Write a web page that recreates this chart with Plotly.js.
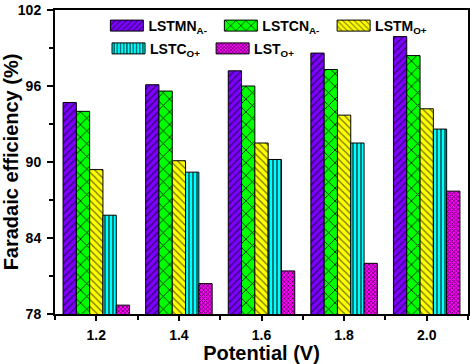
<!DOCTYPE html>
<html>
<head>
<meta charset="utf-8">
<script src="https://cdn.plot.ly/plotly-3.0.1.min.js"></script>
<style>
html,body{margin:0;padding:0;background:#fff;}
#chart{width:474px;height:364px;}
#chart g.legendpoints path{d:path("M16.5,5.5H-16.5V-5.5H16.5Z");}
</style>
</head>
<body>
<div id="chart"></div>
<script>
// Data
var potentials = [1.2, 1.4, 1.6, 1.8, 2.0];
var tickLabels = ['1.2', '1.4', '1.6', '1.8', '2.0'];
var seriesNames = ['LSTMN<sub>A-</sub>', 'LSTCN<sub>A-</sub>', 'LSTM<sub>O+</sub>', 'LSTC<sub>O+</sub>', 'LST<sub>O+</sub>'];
var LSTMN_A = [94.7, 96.1, 97.2, 98.6, 99.9];
var LSTCN_A = [94.0, 95.6, 96.0, 97.3, 98.4];
var LSTM_O = [89.4, 90.1, 91.5, 93.7, 94.2];
var LSTC_O = [85.8, 89.2, 90.2, 91.5, 92.6];
var LST_O = [78.7, 80.4, 81.4, 82.0, 87.7];

var seriesValues = [LSTMN_A, LSTCN_A, LSTM_O, LSTC_O, LST_O];
var colors = ['#7F00FF', '#00FF00', '#FFFF00', '#00FFFF', '#FF00FF'];
var patterns = [
  {shape: '/', fgcolor: '#1a0050', fgopacity: 0.7, size: 5, solidity: 0.3},
  {shape: 'x', fgcolor: '#003300', fgopacity: 1, size: 9, solidity: 0.2},
  {shape: '\\', fgcolor: '#4d4d00', fgopacity: 0.8, size: 5, solidity: 0.25},
  {shape: '|', fgcolor: '#002020', fgopacity: 1, size: 4, solidity: 0.3},
  {shape: 'x', fgcolor: '#400040', fgopacity: 0.9, size: 3, solidity: 0.45}
];
// one legend box per entry so each entry sits where the reference puts it
var legendIds = ['legend', 'legend2', 'legend3', 'legend4', 'legend5'];
var legendX = [0.122, 0.398, 0.671, 0.126, 0.378];
var legendY = [1.0, 1.0, 1.0, 0.925, 0.925];

var traces = seriesValues.map(function (vals, i) {
  var pat = Object.assign({fillmode: 'replace', bgcolor: colors[i]}, patterns[i]);
  return {
    type: 'bar',
    x: potentials,
    y: vals,
    name: seriesNames[i],
    legend: legendIds[i],
    marker: {
      color: colors[i],
      line: {color: '#000', width: 1},
      pattern: pat
    }
  };
});

var font = {family: 'Arial, "Liberation Sans", sans-serif', color: '#000'};

var layout = {
  width: 474, height: 364,
  margin: {l: 55, r: 6, t: 10, b: 50},
  paper_bgcolor: '#fff', plot_bgcolor: '#fff',
  font: font,
  barmode: 'group', bargap: 0.195, bargroupgap: 0,
  showlegend: true,
  xaxis: {
    range: [1.1, 2.1],
    tickvals: potentials, ticktext: tickLabels,
    ticks: 'outside', ticklen: 5, tickwidth: 2, tickcolor: '#000',
    ticklabelstandoff: 2,
    minor: {tickvals: [1.1, 1.3, 1.5, 1.7, 1.9, 2.1], ticks: 'outside', ticklen: 4, tickwidth: 2, tickcolor: '#000'},
    showline: true, linecolor: '#000', linewidth: 2, mirror: true,
    showgrid: false, zeroline: false,
    tickfont: {family: font.family, size: 14, color: '#000', weight: 'bold'},
    title: {text: 'Potential (V)\u00a0\u00a0', font: {family: font.family, size: 20, color: '#000', weight: 'bold'}, standoff: 0}
  },
  yaxis: {
    range: [78, 102],
    tickvals: [78, 84, 90, 96, 102],
    ticks: 'outside', ticklen: 6, tickwidth: 2, tickcolor: '#000',
    ticklabelstandoff: 3,
    minor: {tickvals: [81, 87, 93, 99], ticks: 'outside', ticklen: 4, tickwidth: 2, tickcolor: '#000'},
    showline: true, linecolor: '#000', linewidth: 2, mirror: true,
    showgrid: false, zeroline: false,
    tickfont: {family: font.family, size: 14, color: '#000', weight: 'bold'},
    title: {text: 'Faradaic efficiency (%)\u00a0\u00a0\u00a0', font: {family: font.family, size: 20, color: '#000', weight: 'bold'}, standoff: 6}
  }
};

legendIds.forEach(function (id, i) {
  layout[id] = {
    orientation: 'h', xanchor: 'left', yanchor: 'top',
    x: legendX[i], y: legendY[i],
    bgcolor: 'rgba(0,0,0,0)', borderwidth: 0,
    itemwidth: 33,
    font: {family: font.family, size: 14, color: '#000', weight: 'bold'}
  };
});

var gd = document.getElementById('chart');
Plotly.newPlot(gd, traces, layout, {staticPlot: true, displayModeBar: false});
</script>
</body>
</html>
